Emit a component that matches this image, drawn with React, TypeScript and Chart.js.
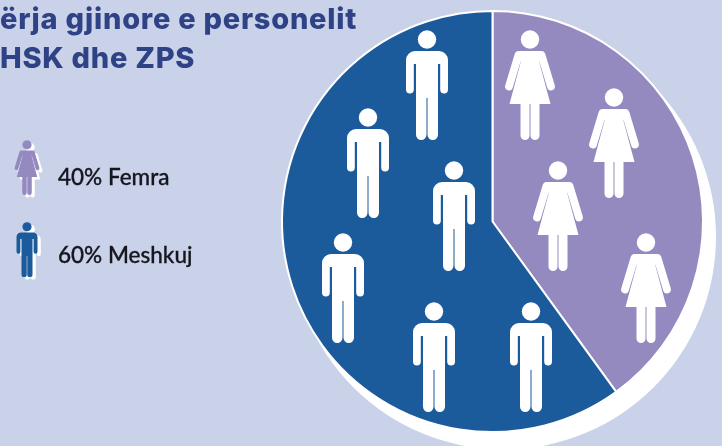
import React, { useEffect, useRef } from "react";
import { Chart, registerables } from "chart.js";

Chart.register(...registerables);

const categories = ["Femra", "Meshkuj"];
const shares = [40, 60];
const sliceColors = ["#948ac0", "#1b5a9b"];
const titleLines = ["ërja gjinore e personelit", "HSK dhe ZPS"];
const womanIcons = [[37.5, -191.5], [121.5, -133.5], [65.5, -60.5], [153.5, 11.5]];
const manIcons = [[-65.5, -191.5], [-124.5, -113.5], [-38.5, -60.5], [-149.5, 11.5], [-58.5, 80.5], [38.5, 80.5]];

type Ctx = CanvasRenderingContext2D;

function drawMan(ctx: Ctx, x: number, y: number, s: number, color: string) {
  ctx.save();
  ctx.translate(x, y);
  ctx.scale(s, s);
  ctx.fillStyle = color;
  ctx.beginPath();
  ctx.arc(0, 9.5, 9.2, 0, Math.PI * 2);
  ctx.fill();
  ctx.beginPath();
  ctx.roundRect(-21, 21, 42, 13, [9, 9, 0, 0]);
  ctx.roundRect(-21, 26, 7.8, 37.5, 3.9);
  ctx.roundRect(13.2, 26, 7.8, 37.5, 3.9);
  ctx.rect(-11, 24, 22, 44);
  ctx.roundRect(-11, 60, 10.5, 50, 5.2);
  ctx.roundRect(0.5, 60, 10.5, 50, 5.2);
  ctx.fill();
  ctx.restore();
}

function drawWoman(ctx: Ctx, x: number, y: number, s: number, color: string) {
  ctx.save();
  ctx.translate(x, y);
  ctx.scale(s, s);
  ctx.fillStyle = color;
  ctx.strokeStyle = color;
  ctx.beginPath();
  ctx.arc(0, 9.5, 9.2, 0, Math.PI * 2);
  ctx.fill();
  ctx.beginPath();
  ctx.moveTo(-11, 21);
  ctx.lineTo(11, 21);
  ctx.lineTo(9.5, 33);
  ctx.lineTo(20.5, 74);
  ctx.lineTo(-20.5, 74);
  ctx.lineTo(-9.5, 33);
  ctx.closePath();
  ctx.roundRect(-9.5, 70, 9, 40, 4.5);
  ctx.roundRect(0.5, 70, 9, 40, 4.5);
  ctx.fill();
  ctx.lineWidth = 7.8;
  ctx.lineCap = "round";
  ctx.beginPath();
  ctx.moveTo(-11.5, 25);
  ctx.lineTo(-21, 56.5);
  ctx.moveTo(11.5, 25);
  ctx.lineTo(21, 56.5);
  ctx.stroke();
  ctx.restore();
}

const shadowPlugin = {
  id: "pieShadow",
  beforeDatasetsDraw(chart: any) {
    const arc = chart.getDatasetMeta(0).data[0];
    const ctx = chart.ctx;
    ctx.save();
    ctx.fillStyle = "#ffffff";
    ctx.beginPath();
    ctx.arc(arc.x + 11, arc.y + 15.5, arc.outerRadius + 2, 0, Math.PI * 2);
    ctx.fill();
    ctx.restore();
  },
};

const iconsPlugin = {
  id: "figures",
  afterDatasetsDraw(chart: any) {
    const arc = chart.getDatasetMeta(0).data[0];
    const ctx = chart.ctx;
    womanIcons.forEach(([dx, dy]) => drawWoman(ctx, arc.x + dx, arc.y + dy, 1, "#ffffff"));
    manIcons.forEach(([dx, dy]) => drawMan(ctx, arc.x + dx, arc.y + dy, 1, "#ffffff"));
    drawWoman(ctx, 30, 142.5, 0.5, "#ffffff");
    drawWoman(ctx, 27, 140, 0.5, sliceColors[0]);
    drawMan(ctx, 30.3, 224.5, 0.5, "#ffffff");
    drawMan(ctx, 27, 222, 0.5, sliceColors[1]);
  },
};

const textBase: React.CSSProperties = { position: "absolute", whiteSpace: "nowrap", margin: 0 };

export default function App() {
  const ref = useRef<HTMLCanvasElement | null>(null);

  useEffect(() => {
    const chart = new Chart(ref.current!, {
      type: "pie",
      data: {
        labels: categories,
        datasets: [{ data: shares, backgroundColor: sliceColors, borderColor: "#ffffff", borderWidth: 2 }],
      },
      options: {
        animation: false,
        responsive: false,
        layout: { padding: { left: 281, right: 18, top: 10, bottom: 13 } },
        plugins: { legend: { display: false }, tooltip: { enabled: false } },
      },
      plugins: [shadowPlugin, iconsPlugin],
    });
    return () => chart.destroy();
  }, []);

  return (
    <div style={{ position: "fixed", left: 0, top: 0, width: 722, height: 446, overflow: "hidden", background: "#c9d2e9" }}>
      <canvas ref={ref} width={722} height={446} style={{ position: "absolute", left: 0, top: 0, width: 722, height: 446 }} />
      {titleLines.map((line, i) => (
        <div
          key={line}
          style={{
            ...textBase,
            left: 0,
            top: 0 + i * 38.5,
            font: "800 29px/38px Inter, sans-serif",
            letterSpacing: "0.75px",
            color: "#2f4285",
          }}
        >
          {line}
        </div>
      ))}
      {categories.map((name, i) => (
        <div
          key={name}
          style={{
            ...textBase,
            left: 58,
            top: 163 + i * 78,
            font: "500 22.5px/28px Lato, sans-serif",
            WebkitTextStroke: "0.3px #16161e",
            color: "#16161e",
          }}
        >
          {`${shares[i]}% ${name}`}
        </div>
      ))}
    </div>
  );
}
